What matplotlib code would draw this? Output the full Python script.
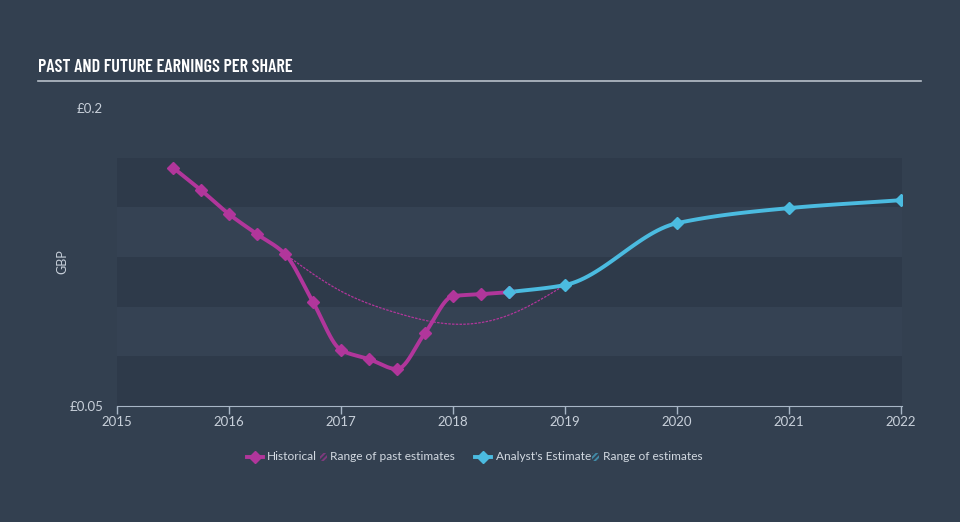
import numpy as np
import matplotlib
matplotlib.use('Agg')
import matplotlib.pyplot as plt
from matplotlib.lines import Line2D
from matplotlib.patches import Rectangle

# data (year, GBP)
hist_years = [2015.5, 2015.75, 2016.0, 2016.25, 2016.5, 2016.75, 2017.0,
              2017.25, 2017.5, 2017.75, 2018.0, 2018.25, 2018.5]
hist_eps = [0.170, 0.1587, 0.1466, 0.1365, 0.1265, 0.1023, 0.0782,
            0.0736, 0.0686, 0.0867, 0.1053, 0.1063, 0.1073]

past_est_years = [2016.5, 2017.0, 2017.5, 2018.0, 2018.5, 2019.0]
past_est_eps = [0.1265, 0.1078, 0.0968, 0.0912, 0.0958, 0.1109]

est_years = [2018.5, 2019.0, 2020.0, 2021.0, 2022.0]
est_eps = [0.1073, 0.1109, 0.1420, 0.1496, 0.1536]

year_ticks = [2015, 2016, 2017, 2018, 2019, 2020, 2021, 2022]

BG = '#334050'
BAND_DARK = '#2e3a4a'
BAND_LIGHT = '#354253'
MAGENTA = '#b1369b'
CYAN = '#4bbbe0'
TXT = '#c8d0da'

plt.rcParams['font.family'] = ['Lato', 'DejaVu Sans']
plt.rcParams['hatch.linewidth'] = 1.4


def pchip(x, y, n=30):
    """monotone cubic curve through the points, for drawing only"""
    x = np.asarray(x, float)
    y = np.asarray(y, float)
    h = np.diff(x)
    d = np.diff(y) / h
    m = np.zeros_like(y)
    for k in range(1, len(y) - 1):
        if d[k - 1] * d[k] > 0:
            w1 = 2 * h[k] + h[k - 1]
            w2 = h[k] + 2 * h[k - 1]
            m[k] = (w1 + w2) / (w1 / d[k - 1] + w2 / d[k])
    m[0] = d[0]
    m[-1] = d[-1]
    xs, ys = [], []
    for k in range(len(h)):
        t = np.linspace(0, 1, n)
        h00 = 2 * t**3 - 3 * t**2 + 1
        h10 = t**3 - 2 * t**2 + t
        h01 = -2 * t**3 + 3 * t**2
        h11 = t**3 - t**2
        xs.append(x[k] + t * h[k])
        ys.append(h00 * y[k] + h10 * h[k] * m[k] + h01 * y[k + 1] + h11 * h[k] * m[k + 1])
    return np.concatenate(xs), np.concatenate(ys)


def spline(x, y, n=30):
    """natural cubic spline, for the smooth past-estimate curve"""
    x = np.asarray(x, float)
    y = np.asarray(y, float)
    N = len(x)
    h = np.diff(x)
    A = np.zeros((N, N))
    b = np.zeros(N)
    A[0, 0] = A[-1, -1] = 1
    for i in range(1, N - 1):
        A[i, i - 1] = h[i - 1]
        A[i, i] = 2 * (h[i - 1] + h[i])
        A[i, i + 1] = h[i]
        b[i] = 6 * ((y[i + 1] - y[i]) / h[i] - (y[i] - y[i - 1]) / h[i - 1])
    M = np.linalg.solve(A, b)
    xs, ys = [], []
    for i in range(N - 1):
        t = np.linspace(x[i], x[i + 1], n)
        a = (x[i + 1] - t) / h[i]
        c = (t - x[i]) / h[i]
        s = (a * y[i] + c * y[i + 1]
             + ((a**3 - a) * M[i] + (c**3 - c) * M[i + 1]) * h[i]**2 / 6)
        xs.append(t)
        ys.append(s)
    return np.concatenate(xs), np.concatenate(ys)


W, H = 960, 522
fig = plt.figure(figsize=(9.6, 5.22), dpi=100, facecolor=BG)
ax = fig.add_axes([117 / W, 1 - 406 / H, 785 / W, 298 / H])
ax.set_facecolor(BG)

# alternating bands
for i, lo in enumerate(np.arange(0.05, 0.175, 0.025)):
    ax.axhspan(lo, lo + 0.025, color=BAND_DARK if i % 2 == 0 else BAND_LIGHT,
               lw=0, zorder=0)

px, py = spline(past_est_years, past_est_eps)
ax.plot(px, py, color=MAGENTA, lw=0.9, ls=(0, (2, 1)), zorder=2)

hx, hy = pchip(hist_years, hist_eps)
ax.plot(hx, hy, color=MAGENTA, lw=2.8, zorder=3, solid_capstyle='round')
ax.plot(hist_years, hist_eps, 'D', color=MAGENTA, ms=6.5, zorder=4)

ex, ey = pchip(est_years, est_eps)
ax.plot(ex, ey, color=CYAN, lw=2.8, zorder=3, solid_capstyle='round')
ax.plot(est_years, est_eps, 'D', color=CYAN, ms=6.5, zorder=4)

ax.set_xlim(2015, 2022.01)
ax.set_ylim(0.05, 0.2)
ax.set_xticks(year_ticks)
ax.set_xticklabels([str(y) for y in year_ticks])
ax.set_yticks([0.05, 0.2])
ax.set_yticklabels(['£0.05', '£0.2'])
ax.tick_params(axis='x', colors='#a8b6c6', labelcolor=TXT, labelsize=9.5,
               length=6, width=1, pad=1)
ax.tick_params(axis='y', length=0, labelcolor=TXT, labelsize=9.5, pad=10)
for s in ['top', 'right', 'left']:
    ax.spines[s].set_visible(False)
ax.spines['bottom'].set_color('#a8b6c6')
ax.set_ylabel('GBP', color=TXT, fontsize=9)
ax.yaxis.set_label_coords((68 - 117) / 785, (406 - 262) / 298)

# title and rule
fig.text(38 / W, 1 - 68 / H, 'PAST AND FUTURE EARNINGS PER SHARE',
         color='white', fontsize=13, fontweight='semibold',
         family=['Barlow Condensed', 'DejaVu Sans'], va='center', ha='left')
fig.add_artist(Line2D([38 / W, 921 / W], [1 - 81 / H, 1 - 81 / H],
                      color='#b8c0ca', lw=1.2))

# legend row, laid out by hand
ly = 1 - 457 / H
legend_items = [
    ('line', MAGENTA, 247, 'Historical', 267),
    ('hatch', MAGENTA, 320, 'Range of past estimates', 330),
    ('line', CYAN, 475, "Analyst's Estimate", 496),
    ('hatch', CYAN, 592, 'Range of estimates', 603),
]
for kind, col, hx0, label, tx in legend_items:
    if kind == 'line':
        fig.add_artist(Line2D([hx0 / W, (hx0 + 16) / W], [ly, ly], color=col,
                              lw=2.8, transform=fig.transFigure))
        fig.add_artist(Line2D([(hx0 + 8) / W], [ly], color=col, marker='D',
                              ms=6.5, transform=fig.transFigure))
    else:
        fig.add_artist(Rectangle((hx0 / W, ly - 4 / H), 7 / W, 8 / H,
                                 facecolor='none', edgecolor=col, hatch='//////',
                                 lw=0, alpha=0.6, transform=fig.transFigure))
    fig.text(tx / W, ly, label, color='#d2d9e1', fontsize=8.6, va='center',
             ha='left')

fig.savefig('out.png', dpi=100, facecolor=BG)
